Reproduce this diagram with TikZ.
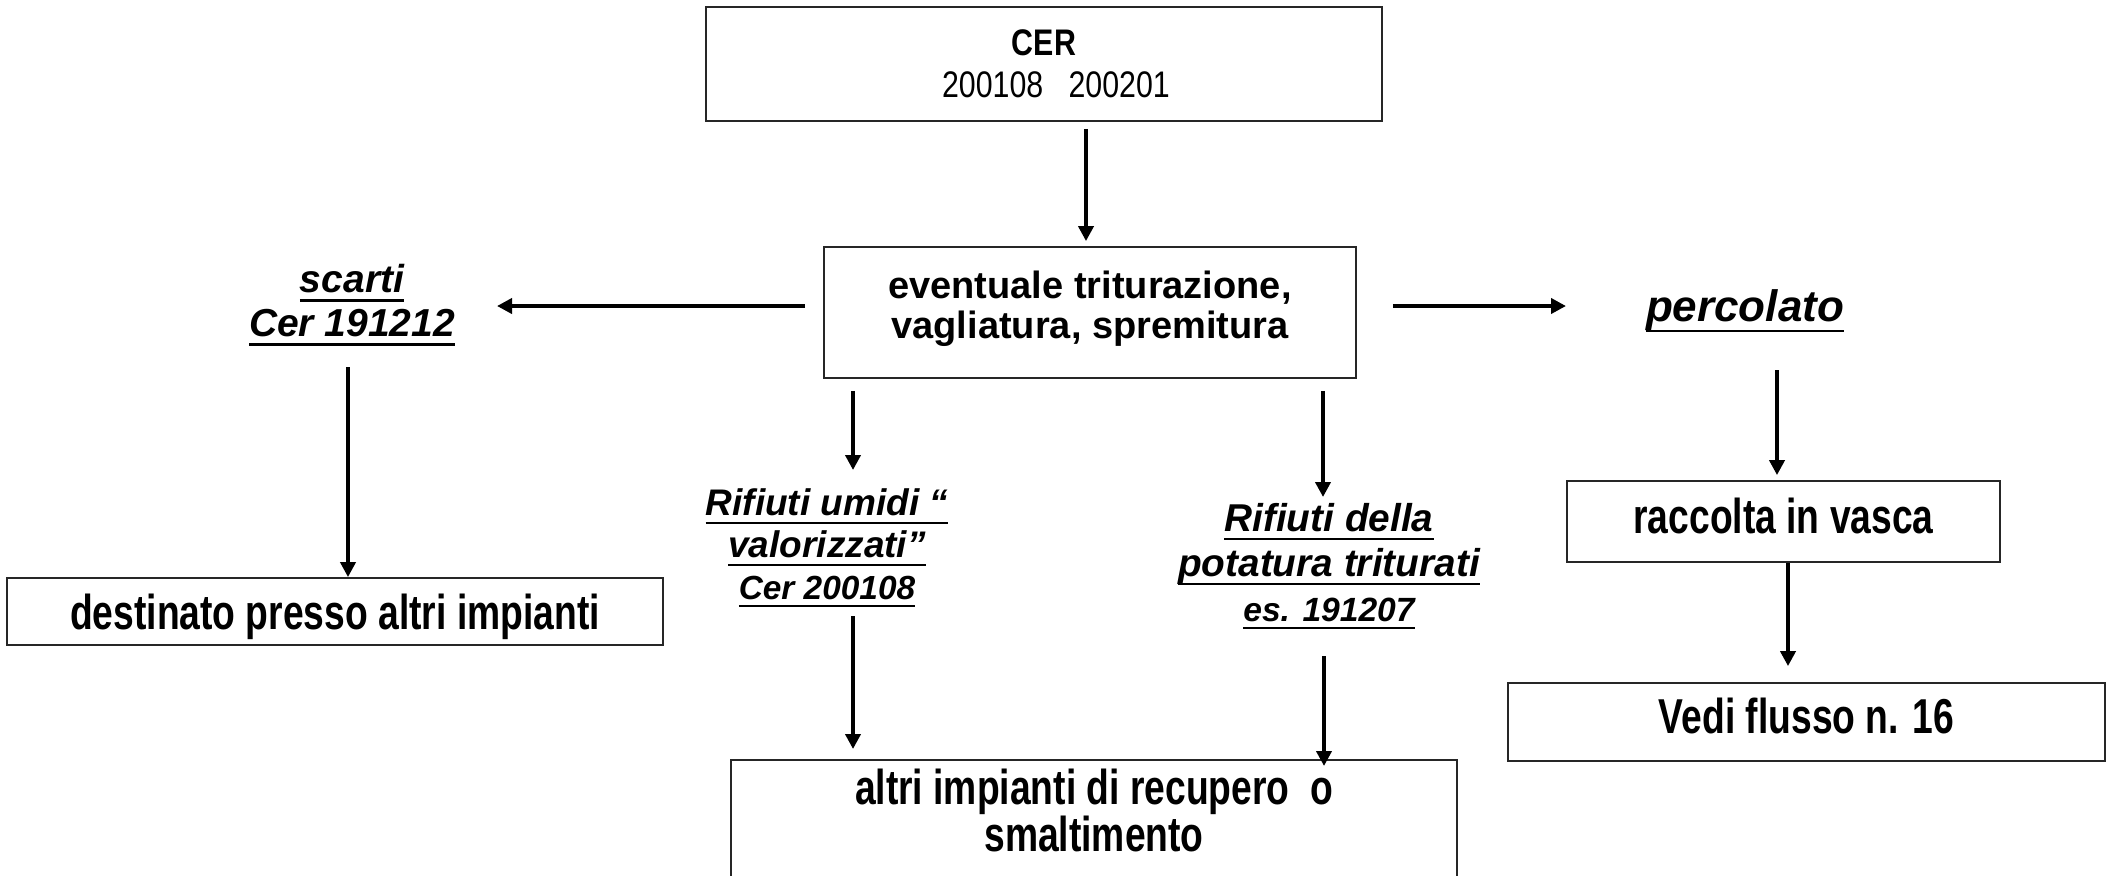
\documentclass[tikz,border=0pt]{standalone}
\usepackage{fontspec}
\setmainfont{Liberation Sans}
\newfontfamily\condfont[FakeStretch=0.76]{Liberation Sans}
\newfontfamily\narrowfont[FakeStretch=0.82]{Liberation Sans}
% underline drawn as a rule a little below the baseline
\newcommand{\ulbar}[1]{\setbox0=\hbox{#1}\rlap{\rule[-0.24em]{\wd0}{1.3pt}}\box0}
\usetikzlibrary{arrows.meta,calc}
\begin{document}
\begin{tikzpicture}[x=0.5pt,y=-0.5pt,
  box/.style={draw=black!85,line width=0.9pt,inner sep=0pt,align=center},
  condtxt/.style={font=\condfont\bfseries\fontsize{24.5}{21.5}\selectfont,align=center},
  boxlabel/.style 2 args={label={[condtxt,yshift=#1]center:#2}},
  lbl/.style={align=center,inner sep=0pt,font=\bfseries\itshape},
  arr/.style={line width=2pt,-{Triangle[length=7.5pt,width=7.5pt]}}]
\useasboundingbox[fill=white] (0,0) rectangle (2108,875);

% boxes
\node[box,minimum width=338pt,minimum height=57pt,
      font=\narrowfont\fontsize{18.5}{21}\selectfont] (cer) at (1044,64)
  {\textbf{CER}\\\hspace*{12pt}200108\ \ \ 200201};
\node[box,minimum width=266pt,minimum height=65.5pt,
      label={[align=center,font=\bfseries\fontsize{19}{20}\selectfont,yshift=2pt]center:%
        eventuale triturazione,\\vagliatura, spremitura}] (mid) at (1090,312.5) {};
\node[box,minimum width=328pt,minimum height=33.5pt,
      boxlabel={-2.5pt}{destinato presso altri impianti}] (dest) at (335,611.5) {};
\node[box,anchor=north,minimum width=363pt,minimum height=60.5pt,
      boxlabel={5pt}{altri impianti di recupero\ \ o\\smaltimento}] (altri) at (1094,759) {};
\node[box,minimum width=216.5pt,minimum height=40.5pt,
      boxlabel={3pt}{raccolta in vasca}] (racc) at (1783.5,521.5) {};
\node[box,minimum width=298.5pt,minimum height=39pt,
      boxlabel={3pt}{Vedi flusso n. 16}] (vedi) at (1806.5,722) {};

% italic labels
\node[lbl,font=\bfseries\itshape\fontsize{19.5}{22}\selectfont] (scarti) at (352,305)
  {\ulbar{scarti}\\\ulbar{Cer 191212}};
\node[lbl,font=\bfseries\itshape\fontsize{22}{24}\selectfont] (perc) at (1745,311)
  {\ulbar{percolato}};
\node[lbl,font=\bfseries\itshape\fontsize{18.5}{21}\selectfont] (umidi) at (827,548)
  {\ulbar{Rifiuti umidi “}\\\ulbar{valorizzati”}\\
   {\fontsize{16.7}{19.5}\selectfont\ulbar{Cer 200108}}};
\node[lbl,font=\bfseries\itshape\fontsize{19.4}{22.5}\selectfont] (pot) at (1329,566)
  {\ulbar{Rifiuti della}\\\ulbar{potatura triturati}\\
   {\fontsize{16.8}{19.5}\selectfont\ulbar{es. 191207}}};

% connectors
\draw[arr] ($(cer.south)+(42,7)$) -- ($(mid.north)+(-4,-5)$);
\draw[arr] ($(mid.west)+(-18,-6.5)$) -- ($(scarti)+(145,1)$);
\draw[arr] ($(mid.east)+(36,-6.5)$) -- ($(perc)+(-179,-5)$);
\draw[arr] ($(scarti)+(-4,62)$) -- ($(dest.north)+(13,0)$);
\draw[arr] ($(mid.south)+(-237,12)$) -- ($(umidi)+(26,-78)$);
\draw[arr] ($(umidi)+(26,68)$) -- ($(altri.north)+(-241,-10)$);
\draw[arr] ($(mid.south)+(233,12)$) -- ($(pot)+(-6,-69)$);
\draw[arr] ($(pot)+(-5,90)$) -- ($(altri.north)+(230,7)$);
\draw[arr] ($(perc)+(32,59)$) -- ($(racc.north)+(-6.5,-5)$);
\draw[arr] ($(racc.south)+(4.5,0)$) -- ($(vedi.north)+(-18.5,-16)$);
\end{tikzpicture}
\end{document}
